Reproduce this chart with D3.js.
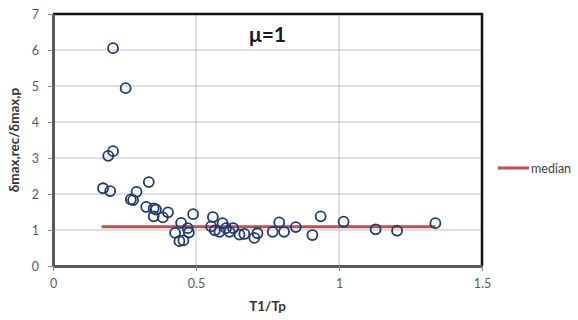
<!DOCTYPE html>
<html>
<head>
<meta charset="utf-8">
<script src="https://cdn.jsdelivr.net/npm/d3@7"></script>
<style>
  body { margin: 0; background: #fff; }
  text { font-family: Lato, "Open Sans", sans-serif; }
</style>
</head>
<body>
<div id="chart"></div>
<script>
// T1/Tp ratio for each record
const ratioT = [
  0.175, 0.200, 0.193, 0.210, 0.210, 0.254, 0.272, 0.280, 0.292, 0.335,
  0.326, 0.352, 0.360, 0.352, 0.384, 0.402, 0.427, 0.448, 0.442, 0.456,
  0.471, 0.475, 0.490, 0.559, 0.553, 0.566, 0.582, 0.593, 0.605, 0.617,
  0.630, 0.652, 0.669, 0.704, 0.715, 0.768, 0.791, 0.808, 0.849, 0.907,
  0.936, 1.016, 1.128, 1.203, 1.337
];
// displacement ratio δmax,rec/δmax,p
const ratioDelta = [
  2.16, 2.08, 3.06, 3.19, 6.05, 4.94, 1.85, 1.83, 2.06, 2.33,
  1.64, 1.60, 1.57, 1.38, 1.35, 1.49, 0.92, 1.20, 0.69, 0.71,
  1.05, 0.93, 1.44, 1.36, 1.10, 0.99, 0.95, 1.19, 1.05, 0.95,
  1.05, 0.87, 0.89, 0.78, 0.91, 0.95, 1.21, 0.95, 1.08, 0.86,
  1.38, 1.23, 1.02, 0.98, 1.19
];
const medianValue = 1.09;
const medianRange = [0.17, 1.337];
const xTicks = [0, 0.5, 1, 1.5];
const yTicks = [0, 1, 2, 3, 4, 5, 6, 7];

const width = 578, height = 320;
const margin = { left: 53, top: 14, right: 96, bottom: 54 };
const innerWidth = width - margin.left - margin.right;
const innerHeight = height - margin.top - margin.bottom;

const svg = d3.select("#chart").append("svg")
  .attr("width", width)
  .attr("height", height);
const g = svg.append("g")
  .attr("transform", `translate(${margin.left},${margin.top})`);

const x = d3.scaleLinear().domain([0, 1.5]).range([0, innerWidth]);
const y = d3.scaleLinear().domain([0, 7]).range([innerHeight, 0]);

// gridlines
g.selectAll(".vgrid")
  .data(xTicks.slice(1, -1))
  .join("line")
  .attr("x1", (d) => x(d)).attr("x2", (d) => x(d))
  .attr("y1", 0).attr("y2", innerHeight)
  .attr("stroke", "#bfbfbf").attr("stroke-width", 1);
g.selectAll(".hgrid")
  .data(yTicks.slice(1, -1))
  .join("line")
  .attr("x1", 0).attr("x2", innerWidth)
  .attr("y1", (d) => y(d)).attr("y2", (d) => y(d))
  .attr("stroke", "#bfbfbf").attr("stroke-width", 1);

// top and right frame
g.append("path")
  .attr("d", `M0,${y(7)}H${x(1.5)}V${innerHeight}`)
  .attr("fill", "none")
  .attr("stroke", "#111")
  .attr("stroke-width", 2.5);

// axes
const xAxis = d3.axisBottom(x).tickValues(xTicks)
  .tickFormat(d3.format("")).tickSizeInner(5).tickSizeOuter(0).tickPadding(8);
const yAxis = d3.axisLeft(y).tickValues(yTicks)
  .tickFormat(d3.format("d")).tickSizeInner(5).tickSizeOuter(0).tickPadding(9);

const xG = g.append("g").attr("transform", `translate(0,${innerHeight})`).call(xAxis);
const yG = g.append("g").call(yAxis);
[xG, yG].forEach((a) => {
  a.select(".domain").attr("stroke", "#595959").attr("stroke-width", 3);
  a.selectAll(".tick line").attr("stroke", "#8c8c8c");
  a.selectAll(".tick text")
    .attr("fill", "#595959")
    .style("font-size", "12.5px")
    .style("font-family", "Lato, 'Open Sans', sans-serif");
});

// median line
g.append("line")
  .attr("x1", x(medianRange[0])).attr("x2", x(medianRange[1]))
  .attr("y1", y(medianValue)).attr("y2", y(medianValue))
  .attr("stroke", "#c0504d").attr("stroke-width", 3);

// data points
const points = ratioT.map((t, i) => ({ t, d: ratioDelta[i] }));
g.selectAll(".pt")
  .data(points)
  .join("circle")
  .attr("cx", (p) => x(p.t))
  .attr("cy", (p) => y(p.d))
  .attr("r", 5)
  .attr("fill", "none")
  .attr("stroke", "#1f3b73")
  .attr("stroke-width", 1.8);

// title
g.append("text")
  .attr("x", innerWidth / 2)
  .attr("y", 28)
  .attr("text-anchor", "middle")
  .style("font-size", "21px")
  .style("font-weight", "bold")
  .attr("fill", "#1a1a1a")
  .text("μ=1");

// axis titles
svg.append("text")
  .attr("x", margin.left + innerWidth / 2)
  .attr("y", 311)
  .attr("text-anchor", "middle")
  .style("font-size", "13.5px")
  .style("font-weight", "bold")
  .attr("fill", "#333")
  .text("T1/Tp");
svg.append("text")
  .attr("transform", `translate(19,${margin.top + innerHeight / 2}) rotate(-90)`)
  .attr("text-anchor", "middle")
  .style("font-size", "13.5px")
  .style("font-weight", "bold")
  .attr("fill", "#333")
  .text("δmax,rec/δmax,p");

// legend
const legend = svg.append("g").attr("transform", "translate(498,168)");
legend.append("line")
  .attr("x1", 0).attr("x2", 31)
  .attr("stroke", "#c0504d").attr("stroke-width", 3);
legend.append("text")
  .attr("x", 33).attr("y", 4.5)
  .style("font-size", "12.5px")
  .attr("fill", "#404040")
  .text("median");
</script>
</body>
</html>
